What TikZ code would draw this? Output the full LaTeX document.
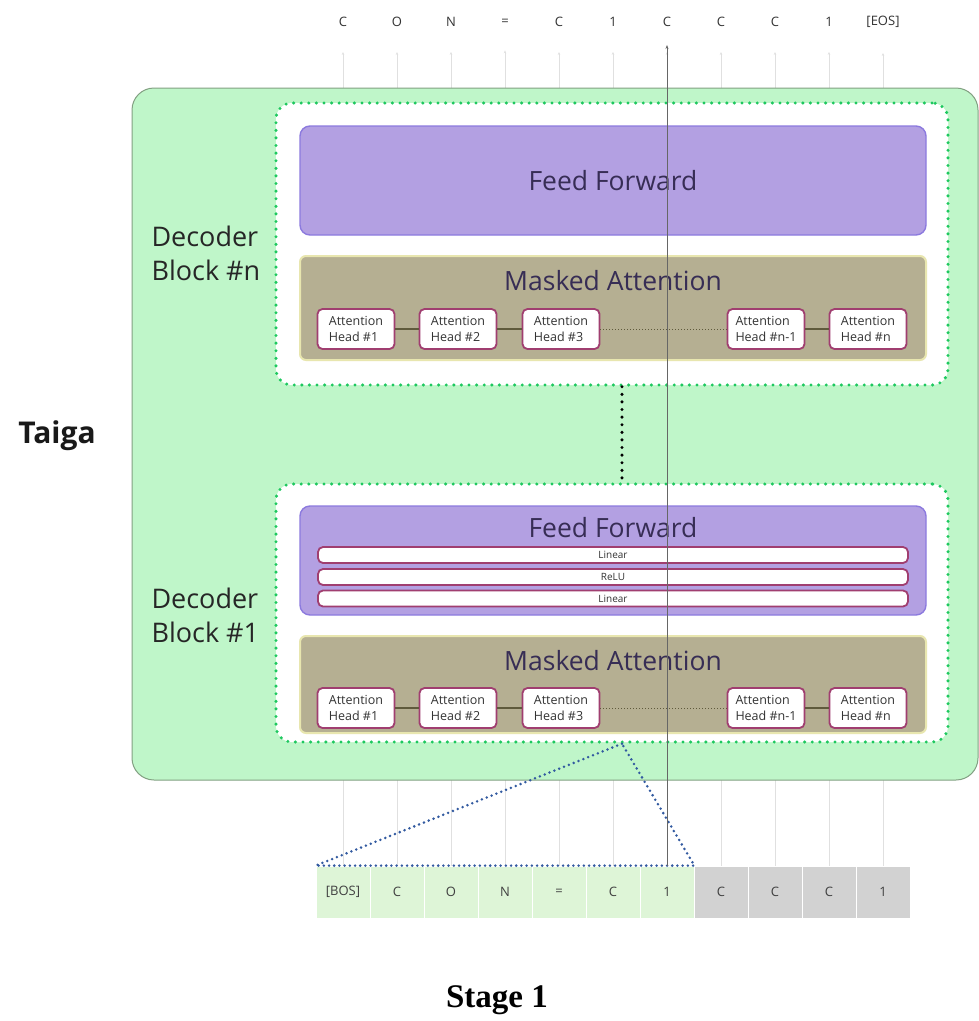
\documentclass[tikz,border=0pt]{standalone}
\usepackage{fontspec}
\setmainfont{Open Sans}
\newfontfamily\stagefont{Liberation Serif}
\usetikzlibrary{positioning,arrows.meta}

\definecolor{taigagreen}{RGB}{191,246,201}
\definecolor{taigaedge}{RGB}{130,160,130}
\definecolor{dotgreen}{RGB}{30,200,95}
\definecolor{ffpurple}{RGB}{179,160,226}
\definecolor{ffedge}{RGB}{140,122,222}
\definecolor{fftext}{RGB}{55,45,85}
\definecolor{attnolive}{RGB}{181,175,146}
\definecolor{attnedge}{RGB}{232,230,175}
\definecolor{headpink}{RGB}{160,62,112}
\definecolor{linkolive}{RGB}{95,90,60}
\definecolor{seengreen}{RGB}{222,245,215}
\definecolor{unseengrey}{RGB}{210,210,210}
\definecolor{zoomblue}{RGB}{50,90,160}

\tikzset{
  token/.style={font=\fontsize{13}{15}\selectfont, text=black!80, inner sep=1pt},
  cell/.style={draw=white, line width=0.8pt, minimum width=54pt, minimum height=52pt,
    inner sep=0pt, font=\fontsize{13}{15}\selectfont, text=black!75},
  tokenline/.style={draw=black!12, line width=0.8pt, shorten >=24pt,
    -{Stealth[length=3pt,width=2.5pt]}},
  causal/.style={draw=black!60, line width=0.9pt, shorten >=17pt,
    -{Stealth[length=4pt,width=3pt]}},
  blockbox/.style={draw=dotgreen, fill=white, line width=3.4pt, line cap=round,
    dash pattern=on 0pt off 7.6pt, rounded corners=16pt, minimum width=672pt},
  ffbox/.style={draw=ffedge, fill=ffpurple, line width=1.4pt, rounded corners=10pt,
    minimum width=626pt, inner sep=0pt},
  attnbox/.style={draw=attnedge, fill=attnolive, line width=2pt, rounded corners=6pt,
    minimum width=626pt, inner sep=0pt},
  title/.style={font=\fontsize{26.5}{30}\selectfont, text=fftext},
  head/.style={draw=headpink, line width=1.8pt, fill=white, rounded corners=5pt,
    minimum width=77pt, minimum height=40pt, align=left, inner sep=2pt,
    font=\fontsize{12.5}{16}\selectfont, text=black!80},
  layer/.style={draw=headpink, line width=1.8pt, fill=white, rounded corners=5pt,
    minimum width=590pt, minimum height=16pt, inner sep=0pt,
    font=\fontsize{10}{12}\selectfont, text=black!80},
  headlink/.style={draw=linkolive, line width=1.6pt},
  headdots/.style={draw=linkolive, line width=1pt, dotted},
  blocklabel/.style={anchor=west, align=left, font=\fontsize{27}{34}\selectfont, text=black!85},
  gapdots/.style={draw=black, line width=3.4pt, line cap=round, dash pattern=on 0pt off 7.6pt},
  zoomline/.style={draw=zoomblue, line width=2.8pt, line cap=round, dash pattern=on 0pt off 5.2pt}
}

\begin{document}
\begin{tikzpicture}[x=1pt,y=-1pt]
  \useasboundingbox (0,0) rectangle (979,1021);

  % tokens out (top) and in (bottom)
  \foreach \t [count=\i] in {C,O,N,=,C,1,C,C,C,1,{[EOS]}}
    \node[token] (out\i) at ({343+54*(\i-1)},22) {\t};
  \foreach \t [count=\i] in {{[BOS]},C,O,N,=,C,1}
    \node[cell, fill=seengreen] (in\i) at ({343+54*(\i-1)},892) {\t};
  \foreach \t [count=\i from 8] in {C,C,C,1}
    \node[cell, fill=unseengrey] (in\i) at ({343+54*(\i-1)},892) {\t};

  \foreach \i in {1,...,11}
    \draw[tokenline] (in\i.north) -- (out\i.south);

  % model
  \node[draw=taigaedge, fill=taigagreen, line width=1pt, rounded corners=22pt,
        minimum width=846pt, minimum height=692pt] (taiga) at (555,434) {};
  \node[font=\bfseries\fontsize{30}{34}\selectfont, text=black!90] (taigalabel) at (57,436) {Taiga};

  % decoder block n
  \node[blockbox, minimum height=282pt] (blkn) at (612,244) {};
  \node[blocklabel] (lbln) at (148,253) {Decoder\\Block \#n};
  \node[ffbox, minimum height=109pt, title] (ffn) at (613,180.5) {Feed Forward};
  \node[attnbox, minimum height=104pt] (attnn) at (613,308) {};
  \node[title] (attnnlabel) at (613,281) {Masked Attention};
  \node[head] (hn1) at (356,329) {Attention\\Head \#1};
  \node[head] (hn2) at (458,329) {Attention\\Head \#2};
  \node[head] (hn3) at (561,329) {Attention\\Head \#3};
  \node[head] (hn4) at (766,329) {Attention\\Head \#n-1};
  \node[head] (hn5) at (868,329) {Attention\\Head \#n};
  \draw[headlink] (hn1) -- (hn2);
  \draw[headlink] (hn2) -- (hn3);
  \draw[headdots] (hn3) -- (hn4);
  \draw[headlink] (hn4) -- (hn5);

  % decoder block 1
  \node[blockbox, minimum height=258pt] (blk1) at (612,613) {};
  \node[blocklabel] (lbl1) at (148,615) {Decoder\\Block \#1};
  \node[ffbox, minimum height=109pt] (ff1) at (613,560.5) {};
  \node[title] (ff1label) at (613,528) {Feed Forward};
  \node[layer] (lin1) at (613,555) {Linear};
  \node[layer] (relu) at (613,577) {ReLU};
  \node[layer] (lin2) at (613,598.5) {Linear};
  \node[attnbox, minimum height=97pt] (attn1) at (613,684.5) {};
  \node[title] (attn1label) at (613,661) {Masked Attention};
  \node[head] (h11) at (356,708) {Attention\\Head \#1};
  \node[head] (h12) at (458,708) {Attention\\Head \#2};
  \node[head] (h13) at (561,708) {Attention\\Head \#3};
  \node[head] (h14) at (766,708) {Attention\\Head \#n-1};
  \node[head] (h15) at (868,708) {Attention\\Head \#n};
  \draw[headlink] (h11) -- (h12);
  \draw[headlink] (h12) -- (h13);
  \draw[headdots] (h13) -- (h14);
  \draw[headlink] (h14) -- (h15);

  \draw[gapdots] ([xshift=10pt]blkn.south) -- ([xshift=10pt]blk1.north);

  % zoom onto the seen tokens
  \coordinate (zoomtip) at ([xshift=10pt]blk1.south);
  \draw[zoomline] (zoomtip) -- (in1.north west) -- (in7.north east) -- cycle;

  \draw[causal] (in7.north) -- (out7.south);

  \node[font=\stagefont\bfseries\fontsize{33}{36}\selectfont] (stage) at (497,1000) {Stage 1};
\end{tikzpicture}
\end{document}
